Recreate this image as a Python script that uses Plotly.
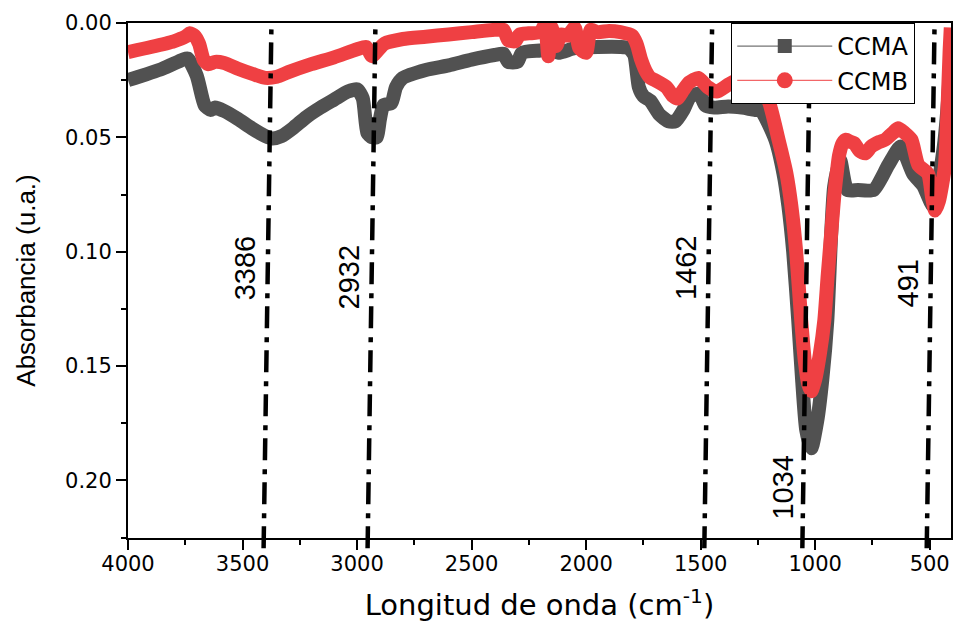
import plotly.graph_objects as go

# FTIR absorbance spectra (wavenumber in cm^-1)
wn_ccma = [4000, 3850, 3760, 3740, 3700, 3665, 3640, 3620, 3580, 3520, 3460, 3400, 3370,
           3330, 3280, 3220, 3160, 3100, 3040, 3000, 2975, 2955, 2935, 2915, 2900, 2885,
           2850, 2830, 2800, 2700, 2600, 2500, 2400, 2360, 2340, 2300, 2280, 2200, 2150,
           2120, 2050, 1950, 1850, 1815, 1790, 1770, 1750, 1720, 1680, 1640, 1610, 1575,
           1545, 1505, 1480, 1440, 1380, 1320, 1290, 1265, 1239, 1174, 1139, 1117, 1096,
           1074, 1057, 1039, 1017, 991, 969, 947, 930, 917, 891, 860, 813, 745, 680, 627,
           572, 529, 485, 441, 420, 407]
abs_ccma = [0.0250, 0.0200, 0.0160, 0.0155, 0.0230, 0.0360, 0.0380, 0.0370, 0.0385, 0.0420,
            0.0460, 0.0495, 0.0505, 0.0495, 0.0460, 0.0410, 0.0370, 0.0335, 0.0300, 0.0290,
            0.0330, 0.0480, 0.0500, 0.0500, 0.0420, 0.0360, 0.0350, 0.0280, 0.0240, 0.0205,
            0.0185, 0.0160, 0.0140, 0.0135, 0.0170, 0.0170, 0.0130, 0.0120, 0.0115, 0.0130,
            0.0110, 0.0105, 0.0105, 0.0110, 0.0140, 0.0280, 0.0320, 0.0340, 0.0400, 0.0430,
            0.0430, 0.0380, 0.0320, 0.0310, 0.0360, 0.0370, 0.0365, 0.0370, 0.0375, 0.0380,
            0.0380, 0.0510, 0.0655, 0.0800, 0.1000, 0.1300, 0.1560, 0.1780, 0.1860, 0.1740,
            0.1560, 0.1300, 0.0920, 0.0715, 0.0600, 0.0730, 0.0730, 0.0730, 0.0620, 0.0540,
            0.0660, 0.0710, 0.0800, 0.0560, 0.0340, 0.0095]

wn_ccmb = [4000, 3900, 3800, 3750, 3730, 3710, 3690, 3670, 3650, 3620, 3580, 3520, 3450,
           3400, 3350, 3300, 3200, 3100, 3000, 2960, 2935, 2910, 2880, 2800, 2700, 2600,
           2500, 2400, 2360, 2340, 2310, 2290, 2250, 2200, 2180, 2165, 2150, 2130, 2110,
           2080, 2050, 2030, 2000, 1980, 1950, 1900, 1850, 1800, 1780, 1760, 1740, 1720,
           1700, 1650, 1620, 1600, 1580, 1550, 1510, 1470, 1430, 1380, 1340, 1300, 1260,
           1230, 1204, 1160, 1126, 1104, 1083, 1061, 1045, 1030, 1017, 1000, 980, 960, 945,
           930, 917, 905, 896, 880, 865, 845, 830, 805, 781, 755, 720, 694, 660, 638, 610,
           580, 550, 507, 490, 476, 460, 434, 421, 413, 408]
abs_ccmb = [0.0127, 0.0105, 0.0080, 0.0060, 0.0045, 0.0055, 0.0090, 0.0160, 0.0180, 0.0170,
            0.0175, 0.0200, 0.0225, 0.0240, 0.0235, 0.0215, 0.0180, 0.0150, 0.0115, 0.0105,
            0.0145, 0.0120, 0.0090, 0.0070, 0.0060, 0.0050, 0.0040, 0.0030, 0.0030, 0.0075,
            0.0080, 0.0050, 0.0045, 0.0040, 0.0008, 0.0145, 0.0020, 0.0100, 0.0050, 0.0055,
            0.0020, 0.0110, 0.0130, 0.0030, 0.0040, 0.0035, 0.0040, 0.0055, 0.0090, 0.0160,
            0.0210, 0.0240, 0.0250, 0.0280, 0.0320, 0.0330, 0.0300, 0.0260, 0.0240, 0.0280,
            0.0300, 0.0270, 0.0250, 0.0270, 0.0290, 0.0310, 0.0340, 0.0510, 0.0655, 0.0800,
            0.1000, 0.1300, 0.1480, 0.1580, 0.1610, 0.1560, 0.1450, 0.1300, 0.1100, 0.0920,
            0.0760, 0.0650, 0.0580, 0.0525, 0.0510, 0.0520, 0.0525, 0.0560, 0.0570, 0.0540,
            0.0520, 0.0510, 0.0480, 0.0460, 0.0480, 0.0510, 0.0620, 0.0660, 0.0760, 0.0820,
            0.0780, 0.0630, 0.0340, 0.0120, 0.0020]

# Band assignments marked on the spectrum
band_wn = [3386, 2932, 1462, 1034, 491]
band_label_y = [0.107, 0.111, 0.107, 0.203, 0.114]

GRAY = "#515151"
RED = "#EF4043"

fig = go.Figure()
fig.add_trace(go.Scatter(x=wn_ccma, y=abs_ccma, mode="lines",
                         line=dict(color=GRAY, width=14, shape="spline", smoothing=0.6),
                         showlegend=False, hoverinfo="skip"))
fig.add_trace(go.Scatter(x=wn_ccmb, y=abs_ccmb, mode="lines",
                         line=dict(color=RED, width=14, shape="spline", smoothing=0.6),
                         showlegend=False, hoverinfo="skip"))
# legend entries (thin line + marker)
fig.add_trace(go.Scatter(x=[None], y=[None], mode="lines+markers", name="CCMA",
                         line=dict(color=GRAY, width=1),
                         marker=dict(symbol="square", size=14, color=GRAY)))
fig.add_trace(go.Scatter(x=[None], y=[None], mode="lines+markers", name="CCMB",
                         line=dict(color=RED, width=1),
                         marker=dict(symbol="circle", size=16, color=RED)))

# slanted dash-dot guide lines with rotated labels
for wn, ly in zip(band_wn, band_label_y):
    fig.add_shape(type="line", xref="x", yref="paper",
                  x0=wn + 22, y0=-0.02, x1=wn - 12, y1=0.992,
                  line=dict(color="black", width=4.5, dash="22px,8px,5px,9px"))
    fig.add_annotation(x=wn, y=ly, xref="x", yref="y", text=str(wn), showarrow=False,
                       textangle=-90, xshift=-24,
                       font=dict(family="Liberation Sans", size=29, color="black"))

axis_common = dict(showline=True, linewidth=2, linecolor="black", mirror=True,
                   ticks="outside", ticklen=10, tickwidth=2, tickcolor="black",
                   showgrid=False, zeroline=False,
                   tickfont=dict(family="DejaVu Sans", size=21, color="black"))

fig.update_xaxes(range=[4000, 407], dtick=500, tick0=0, ticklabelstandoff=-4,
                 minor=dict(ticks="outside", ticklen=5, tickwidth=2, dtick=250, tick0=0,
                            tickcolor="black"),
                 title=dict(text="Longitud de onda (cm<sup>-1</sup>)", standoff=20,
                            font=dict(family="DejaVu Sans", size=29, color="black")),
                 **axis_common)
fig.update_yaxes(range=[0.2252, 0], dtick=0.05, tick0=0, tickformat=".2f",
                 minor=dict(ticks="outside", ticklen=5, tickwidth=2, dtick=0.025, tick0=0,
                            tickcolor="black"),
                 title=dict(text="Absorbancia (u.a.)", standoff=22,
                            font=dict(family="Liberation Sans", size=26, color="black")),
                 **axis_common)

fig.update_layout(
    width=958, height=622,
    margin=dict(l=128, r=5, t=23, b=84),
    plot_bgcolor="white", paper_bgcolor="white",
    legend=dict(x=0.733, y=1.0, xanchor="left", yanchor="top",
                bgcolor="white", bordercolor="black", borderwidth=1,
                font=dict(family="DejaVu Sans", size=24, color="black"),
                itemwidth=95, tracegroupgap=0),
)

fig.write_html("out.html")
